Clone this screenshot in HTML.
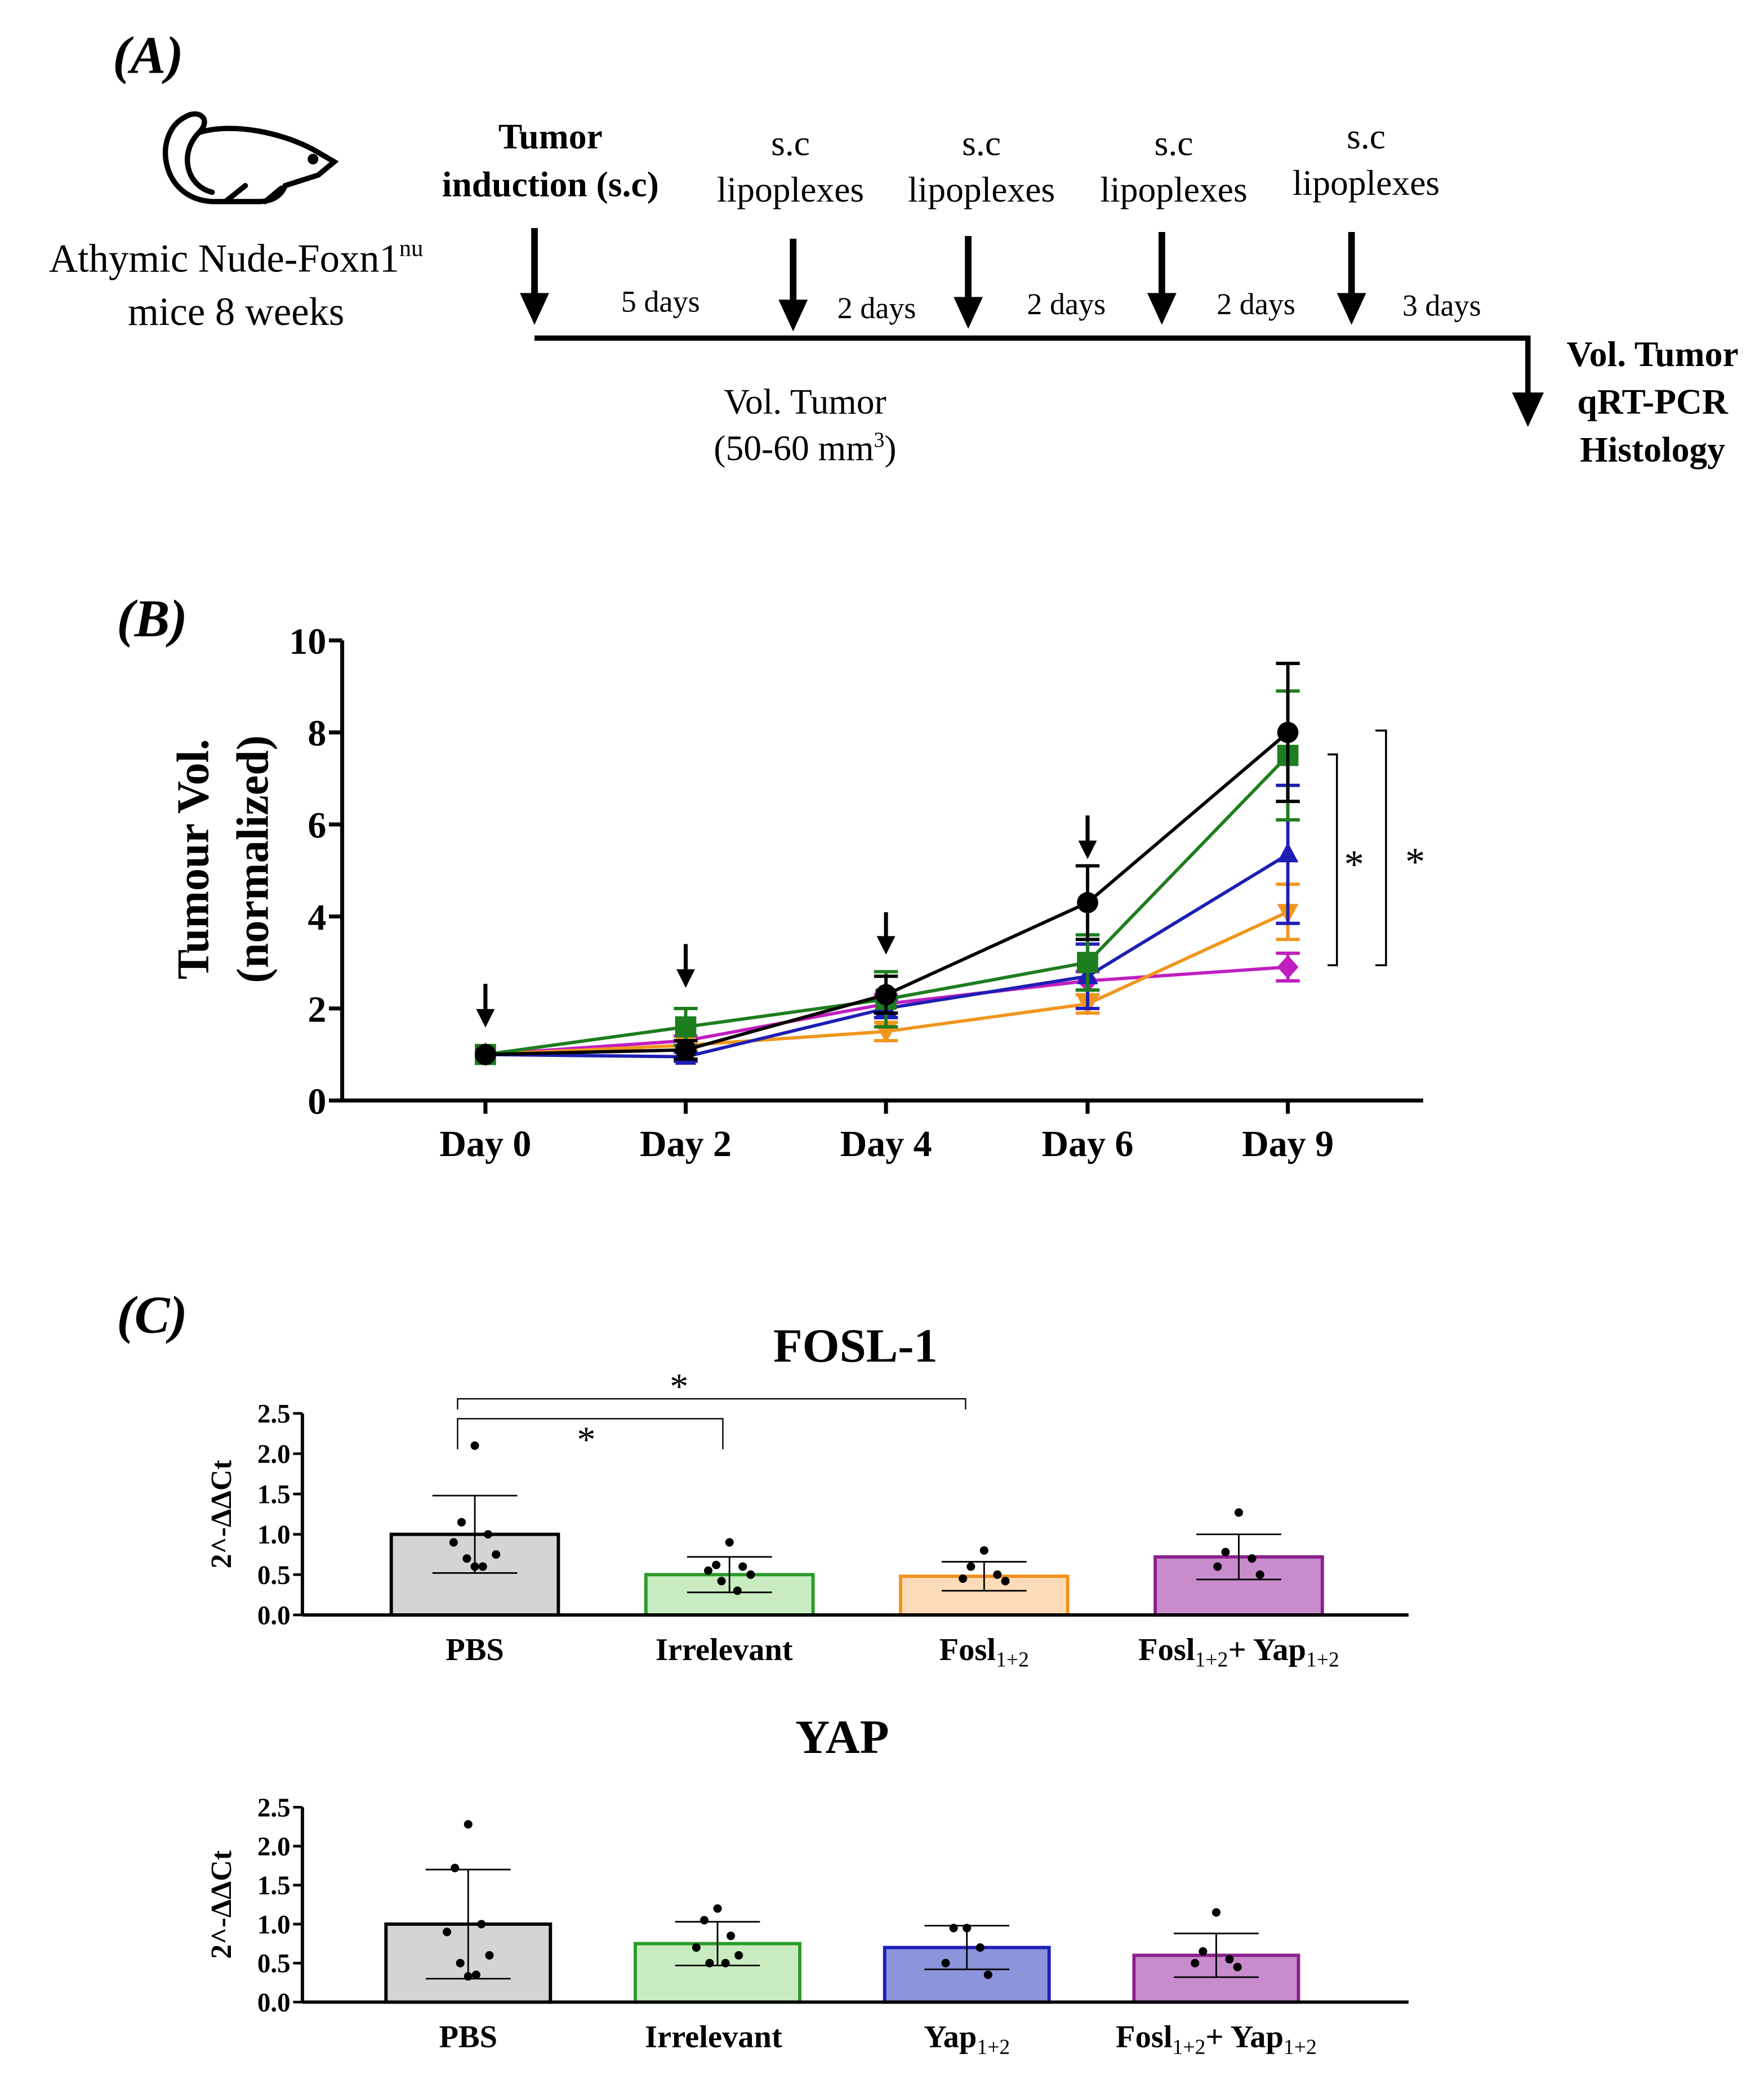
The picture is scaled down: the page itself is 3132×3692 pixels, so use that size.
<!DOCTYPE html>
<html><head><meta charset="utf-8"><style>
html,body{margin:0;padding:0;background:#fff}
svg{display:block}
svg, text, tspan{font-family:"Liberation Serif","Times New Roman",serif}
text{fill:#000}
</style></head><body>
<svg id="fig" xmlns="http://www.w3.org/2000/svg" width="3132" height="3692" viewBox="0 0 1330 1568" preserveAspectRatio="none" font-family="Liberation Serif, Times New Roman, serif">
<g>
<text x="85" y="55" font-size="40" font-weight="bold" font-style="italic">(A)</text>
<g fill="none" stroke="#000" stroke-width="4" stroke-linecap="round">
<path d="M160 152 C120 150 115 100 140 88 C150 82 160 90 150 100 C175 92 215 100 240 115 L252 122 L240 132 L215 140 C212 148 205 152 195 152 Z"/>
<path d="M150 100 C135 115 140 140 160 145"/>
<path d="M170 152 L185 140 M200 152 L212 142"/>
<circle cx="236" cy="120" r="2" fill="#000"/>
</g>
<text x="178" y="205" font-size="30" text-anchor="middle">Athymic Nude-Foxn1<tspan font-size="18" dy="-12">nu</tspan></text>
<text x="178" y="245" font-size="30" text-anchor="middle">mice 8 weeks</text>
<text x="415" y="112" font-size="27" font-weight="bold" text-anchor="middle">Tumor</text>
<text x="415" y="148" font-size="27" font-weight="bold" text-anchor="middle">induction (s.c)</text>
<g font-size="27" text-anchor="middle">
<text x="596" y="117">s.c</text><text x="596" y="152">lipoplexes</text>
<text x="740" y="117">s.c</text><text x="740" y="152">lipoplexes</text>
<text x="885" y="117">s.c</text><text x="885" y="152">lipoplexes</text>
<text x="1030" y="112">s.c</text><text x="1030" y="147">lipoplexes</text>
</g>
<g font-size="23" text-anchor="middle">
<text x="498" y="235">5 days</text><text x="661" y="240">2 days</text><text x="804" y="237">2 days</text><text x="947" y="237">2 days</text><text x="1087" y="238">3 days</text>
</g>
<g id="arrowsA"></g>
<path d="M403 255 L1152 255 L1152 300" stroke="#000" stroke-width="4" fill="none"/>
<path d="M1140 296 L1164 296 L1152 322 Z" fill="#000"/>
<text x="607" y="312" font-size="27" text-anchor="middle">Vol. Tumor</text>
<text x="607" y="347" font-size="27" text-anchor="middle">(50-60 mm<tspan font-size="16" dy="-10">3</tspan><tspan dy="10">)</tspan></text>
<g font-size="27" font-weight="bold" text-anchor="middle">
<text x="1246" y="276">Vol. Tumor</text><text x="1246" y="312">qRT-PCR</text><text x="1246" y="348">Histology</text>
</g>
</g>
<g id="panelB">
<text x="88" y="480" font-size="40" font-weight="bold" font-style="italic">(B)</text>
</g>
<g id="panelC">
<text x="88" y="1005" font-size="40" font-weight="bold" font-style="italic">(C)</text>
</g>
</svg>
<script>
const NS="http://www.w3.org/2000/svg";
function mk(p,tag,a,txt){const e=document.createElementNS(NS,tag);for(const k in a)e.setAttribute(k,a[k]);if(txt!==undefined)e.textContent=txt;p.appendChild(e);return e;}
const arrA=document.getElementById('arrowsA');
[[403,172,245],[598,180,250],[730,178,248],[876,175,245],[1019,175,245]].forEach(a=>{
 mk(arrA,'line',{x1:a[0],y1:a[1],x2:a[0],y2:a[2]-20,stroke:'#000','stroke-width':5});
 mk(arrA,'path',{d:`M${a[0]-11} ${a[2]-24} L${a[0]+11} ${a[2]-24} L${a[0]} ${a[2]} Z`,fill:'#000'});
});

// ---------- Panel B data ----------
const days=["Day 0","Day 2","Day 4","Day 6","Day 9"];
const yTicksB=[0,2,4,6,8,10];
const blackVals=[1,1.1,2.3,4.3,8.0];
const blackErr=[0,0.2,0.4,0.8,1.5];
const greenVals=[1,1.6,2.2,3.0,7.5];
const greenErr=[0,0.4,0.6,0.6,1.4];
const blueVals=[1,0.95,2.0,2.7,5.35];
const blueErr=[0,0.1,0.2,0.7,1.5];
const orangeVals=[1,1.2,1.5,2.1,4.1];
const orangeErr=[0,0.1,0.2,0.2,0.6];
const magentaVals=[1,1.3,2.1,2.6,2.9];
const magentaErr=[0,0.1,0.2,0.2,0.3];

const B=document.getElementById('panelB');
const bx0=258,bx1=1073,by0=830,by1=483;
const xPos=[366,517,668,820,971];
function yB(v){return by0-(v/10)*(by0-by1);}
function xB(i){return xPos[i];}
let el;
el=mk(B,'line',{x1:bx0,y1:by1,x2:bx0,y2:by0,stroke:'#000','stroke-width':3});

el=mk(B,'line',{x1:bx0,y1:by0,x2:bx1,y2:by0,stroke:'#000','stroke-width':3});

yTicksB.forEach(t=>{
 mk(B,'line',{x1:bx0-10,y1:yB(t),x2:bx0,y2:yB(t),stroke:'#000','stroke-width':3});
 el=mk(B,'text',{x:bx0-12,y:yB(t)+10,'font-size':28,'font-weight':'bold','text-anchor':'end'},String(t));
 
});
days.forEach((d,i)=>{
 mk(B,'line',{x1:xB(i),y1:by0,x2:xB(i),y2:by0+10,stroke:'#000','stroke-width':3});
 el=mk(B,'text',{x:xB(i),y:872,'font-size':28,'font-weight':'bold','text-anchor':'middle'},d);
 
});
el=mk(B,'text',{x:0,y:0,'font-size':34,'font-weight':'bold','text-anchor':'middle',transform:'translate(157,648) rotate(-90)'},'Tumour Vol.');

el=mk(B,'text',{x:0,y:0,'font-size':34,'font-weight':'bold','text-anchor':'middle',transform:'translate(202,648) rotate(-90)'},'(normalized)');


const series=[
 {n:'magenta',v:magentaVals,e:magentaErr,c:'#c01ec0',m:'diamond'},
 {n:'orange',v:orangeVals,e:orangeErr,c:'#f0961e',m:'tri-down'},
 {n:'blue',v:blueVals,e:blueErr,c:'#1e1eb4',m:'tri-up'},
 {n:'green',v:greenVals,e:greenErr,c:'#1e7d1e',m:'square'},
 {n:'black',v:blackVals,e:blackErr,c:'#000',m:'circle'}];
series.forEach(s=>{
 const g=mk(B,'g',{});
 
 mk(g,'polyline',{points:s.v.map((v,i)=>xB(i)+','+yB(v)).join(' '),fill:'none',stroke:s.c,'stroke-width':2.5});
 s.v.forEach((v,i)=>{
  const x=xB(i),y=yB(v);
  if(s.e[i]>0){
   mk(g,'line',{x1:x,y1:yB(v-s.e[i]),x2:x,y2:yB(v+s.e[i]),stroke:s.c,'stroke-width':2.5});
   [v-s.e[i],v+s.e[i]].forEach(w=>mk(g,'line',{x1:x-9,y1:yB(w),x2:x+9,y2:yB(w),stroke:s.c,'stroke-width':2.5}));
  }
  let p;
  if(s.m==='circle')p=mk(g,'circle',{cx:x,cy:y,r:8,fill:s.c});
  else if(s.m==='square')p=mk(g,'rect',{x:x-8,y:y-8,width:16,height:16,fill:s.c});
  else if(s.m==='tri-up')p=mk(g,'path',{d:`M${x} ${y-9} L${x+8} ${y+6} L${x-8} ${y+6} Z`,fill:s.c});
  else if(s.m==='tri-down')p=mk(g,'path',{d:`M${x} ${y+9} L${x+8} ${y-6} L${x-8} ${y-6} Z`,fill:s.c});
  else p=mk(g,'path',{d:`M${x} ${y-9} L${x+8} ${y} L${x} ${y+9} L${x-8} ${y} Z`,fill:s.c});
  
 });
});
[[366,742,775],[517,712,745],[668,688,720],[820,615,648]].forEach(a=>{
 mk(B,'line',{x1:a[0],y1:a[1],x2:a[0],y2:a[2]-12,stroke:'#000','stroke-width':3});
 mk(B,'path',{d:`M${a[0]-7} ${a[2]-14} L${a[0]+7} ${a[2]-14} L${a[0]} ${a[2]} Z`,fill:'#000'});
});
mk(B,'path',{d:'M1001 569 L1008 569 L1008 728 L1001 728',fill:'none',stroke:'#000','stroke-width':1.5});
mk(B,'path',{d:'M1037 551 L1045 551 L1045 728 L1037 728',fill:'none',stroke:'#000','stroke-width':1.5});
mk(B,'text',{x:1021,y:662,'font-size':30,'text-anchor':'middle'},'*');
mk(B,'text',{x:1067,y:660,'font-size':30,'text-anchor':'middle'},'*');

// ---------- Panel C data ----------
const cTicks=["0.0","0.5","1.0","1.5","2.0","2.5"];
const foslCats=["PBS","Irrelevant","Fosl","Fosl+Yap"];
const foslVals=[1.0,0.5,0.48,0.72];
const foslErr=[0.48,0.22,0.18,0.28];
const foslPts0=[2.1,1.15,1.0,0.9,0.75,0.7,0.6,0.6];
const foslPts1=[0.9,0.62,0.6,0.55,0.5,0.42,0.3];
const foslPts2=[0.8,0.6,0.5,0.45,0.42];
const foslPts3=[1.27,0.78,0.7,0.6,0.5];
const yapCats=["PBS","Irrelevant","Yap","Fosl+Yap"];
const yapVals=[1.0,0.75,0.7,0.6];
const yapErr=[0.7,0.28,0.28,0.28];
const yapPts0=[2.28,1.72,1.0,0.9,0.6,0.5,0.35,0.33];
const yapPts1=[1.2,1.05,0.85,0.7,0.6,0.5,0.5];
const yapPts2=[0.95,0.95,0.7,0.5,0.35];
const yapPts3=[1.15,0.65,0.55,0.5,0.45];

const C=document.getElementById('panelC');
function barChart(name,title,titleY,y0,y25,centers,halfW,vals,errs,pts,fills,strokes,labelsHTML,labY,labX){
 const g=mk(C,'g',{});
 
 const yv=v=>y0-(v/2.5)*(y0-y25);
 el=mk(g,'text',{x:title==='FOSL-1'?645:635,y:titleY,'font-size':36,'font-weight':'bold','text-anchor':'middle'},title);
 
 vals.forEach((v,i)=>{
  const c=centers[i];
  const r=mk(g,'rect',{x:c-halfW,y:yv(v),width:2*halfW,height:y0-yv(v),fill:fills[i],stroke:strokes[i],'stroke-width':2.5});
  
  const lo=yv(Math.max(0,v-errs[i])),hi=yv(v+errs[i]);
  mk(g,'line',{x1:c,y1:lo,x2:c,y2:hi,stroke:'#000','stroke-width':1.2});
  [lo,hi].forEach(yy=>mk(g,'line',{x1:c-32,y1:yy,x2:c+32,y2:yy,stroke:'#000','stroke-width':1.2}));
  pts[i].forEach((p,k)=>{
   const off=[0,-10,10,-16,16,-6,6,0][k%8];
   const d=mk(g,'circle',{cx:c+off,cy:yv(p),r:3.2,fill:'#000'});
   
  });
 });
 mk(g,'line',{x1:228,y1:y25,x2:228,y2:y0,stroke:'#000','stroke-width':2.5});
 mk(g,'line',{x1:228,y1:y0,x2:1062,y2:y0,stroke:'#000','stroke-width':2.5});
 cTicks.forEach((t,i)=>{
  const yy=yv(i*0.5);
  mk(g,'line',{x1:221,y1:yy,x2:228,y2:yy,stroke:'#000','stroke-width':2});
  el=mk(g,'text',{x:219,y:yy+7,'font-size':20,'font-weight':'bold','text-anchor':'end'},t);
  
 });
 el=mk(g,'text',{x:0,y:0,'font-size':22,'font-weight':'bold','text-anchor':'middle',transform:`translate(174,${(y0+y25)/2}) rotate(-90)`},'2^-ΔΔCt');
 
 labelsHTML.forEach((l,i)=>{
  const t=mk(g,'text',{x:labX[i],y:labY,'font-size':24,'font-weight':'bold','text-anchor':'middle'});
  
  l.forEach(part=>{mk(t,'tspan',part[1]?{'font-size':16,'font-weight':'normal',dy:5}:{dy:part[2]||0},part[0]);});
 });
 return yv;
}
const sub=(s)=>[s,true];
barChart('fosl1-chart','FOSL-1',1027,1218,1066,[358,550,742,934],63,foslVals,foslErr,[foslPts0,foslPts1,foslPts2,foslPts3],
 ['#d4d4d4','#c8ecc0','#fcdcb8','#c88ccc'],['#000','#2a9a2a','#f0901e','#8a208a'],
 [[["PBS"]],[["Irrelevant"]],[["Fosl"],sub("1+2")],[["Fosl"],sub("1+2"),["+ Yap",false,-5],sub("1+2")]],1252,[358,546,742,934]);
barChart('yap-chart','YAP',1322,1510,1363,[353,541,729,917],62,yapVals,yapErr,[yapPts0,yapPts1,yapPts2,yapPts3],
 ['#d4d4d4','#c8ecc0','#8c94dc','#c88ccc'],['#000','#2a9a2a','#1e1eb4','#8a208a'],
 [[["PBS"]],[["Irrelevant"]],[["Yap"],sub("1+2")],[["Fosl"],sub("1+2"),["+ Yap",false,-5],sub("1+2")]],1544,[353,538,729,917]);
mk(C,'path',{d:'M345 1063 L345 1055 L728 1055 L728 1063',fill:'none',stroke:'#000','stroke-width':1});
mk(C,'path',{d:'M345 1093 L345 1070 L545 1070 L545 1093',fill:'none',stroke:'#000','stroke-width':1});
mk(C,'text',{x:512,y:1055,'font-size':28,'text-anchor':'middle'},'*');
mk(C,'text',{x:442,y:1095,'font-size':28,'text-anchor':'middle'},'*');
</script>
</body></html>
